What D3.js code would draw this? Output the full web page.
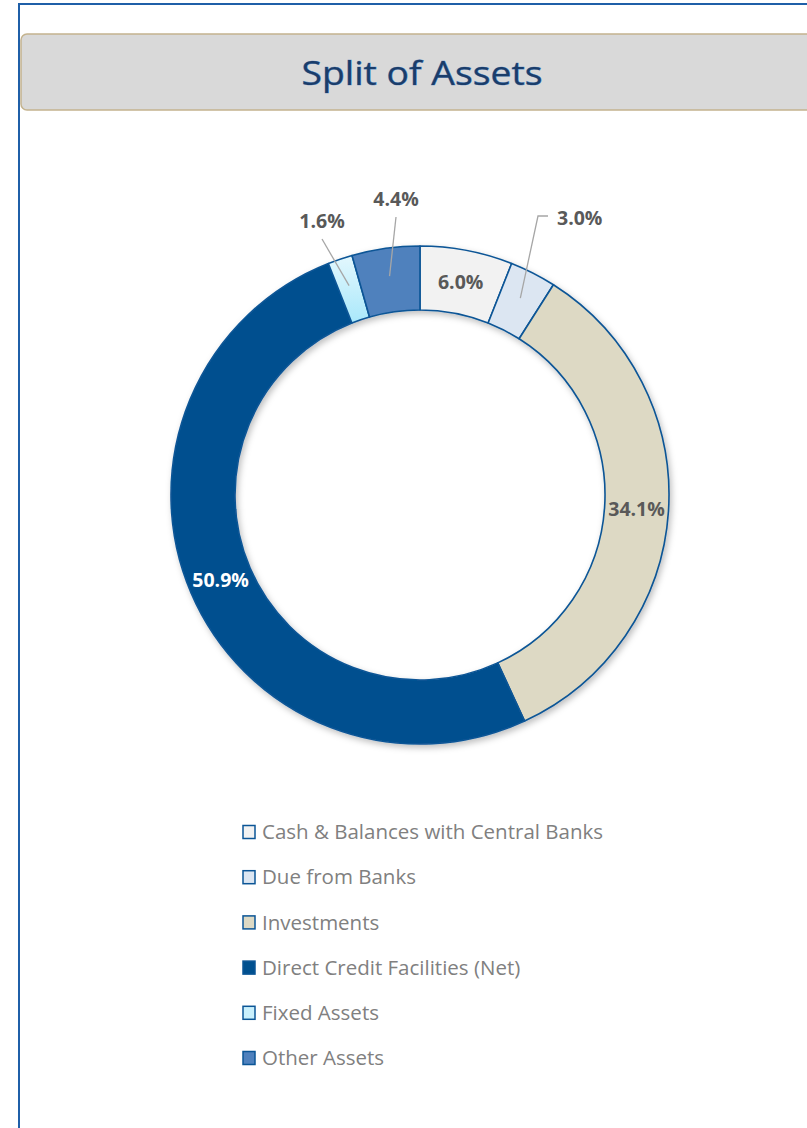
<!DOCTYPE html>
<html><head><meta charset="utf-8">
<script src="https://cdn.jsdelivr.net/npm/d3@7"></script>
<style>body{margin:0;background:#fff;overflow:hidden}svg{display:block}</style>
</head><body>
<svg id="c" width="807" height="1128"></svg>
<script>
const categories = ["Cash & Balances with Central Banks","Due from Banks","Investments","Direct Credit Facilities (Net)","Fixed Assets","Other Assets"];
const values = [6.0, 3.0, 34.1, 50.9, 1.6, 4.4];
const colors = ["#f2f2f2","#dce6f2","#ddd9c4","#00508f","url(#gFixed)","#4f81bd"];
const legendColors = ["#f2f2f2","#dce6f2","#ddd9c4","#00508f","#c9f0fc","#4f81bd"];
const title = "Split of Assets";

const svg = d3.select("#c");
const defs = svg.append("defs");
const g1 = defs.append("linearGradient").attr("id","gFixed").attr("x1","0").attr("y1","0").attr("x2","0").attr("y2","1");
g1.append("stop").attr("offset","0").attr("stop-color","#e3f7fd");
g1.append("stop").attr("offset","1").attr("stop-color","#a9e8fb");
const f = defs.append("filter").attr("id","sh").attr("x","-20%").attr("y","-20%").attr("width","140%").attr("height","140%");
f.append("feDropShadow").attr("dx",2).attr("dy",3).attr("stdDeviation",3).attr("flood-color","#000").attr("flood-opacity",0.25);

// outer frame
svg.append("path").attr("d","M19,1128 L19,4 L807,4").attr("fill","none").attr("stroke","#1f5fa8").attr("stroke-width",2);
// title box
svg.append("rect").attr("x",21).attr("y",34).attr("width",800).attr("height",76).attr("rx",6)
  .attr("fill","#d9d9d9").attr("stroke","#c4b38e").attr("stroke-width",1.5);
svg.append("text").attr("x",422).attr("y",85).attr("text-anchor","middle")
  .attr("font-family","'Open Sans', sans-serif").attr("font-size",33).attr("textLength",241).attr("lengthAdjust","spacingAndGlyphs")
  .attr("fill","#1a3d6a").attr("stroke","#5b8cc6").attr("stroke-width",0.7).attr("paint-order","stroke")
  .text(title);

const cx = 420, cy = 495, rOut = 249, rIn = 185;
const pie = d3.pie().sort(null).value(d=>d)(values);
const arc = d3.arc().innerRadius(rIn).outerRadius(rOut);
const chart = svg.append("g").attr("transform",`translate(${cx},${cy})`);
chart.append("g").attr("filter","url(#sh)").selectAll("path").data(pie).join("path")
  .attr("d",arc).attr("fill",(d,i)=>colors[i]).attr("stroke","#0b5596").attr("stroke-width",1.6).attr("stroke-linejoin","round");

// labels
const font = "'Open Sans', sans-serif";
const fmt = v => v.toFixed(1)+"%";
const mid = d3.arc().innerRadius((rIn+rOut)/2).outerRadius((rIn+rOut)/2);
const inside = {0:true, 2:true, 3:true};
const outside = {1:{lab:[137,-277], anchor:"start", elbow:[118,-279]}, 4:{lab:[-98,-274], anchor:"middle", elbow:null}, 5:{lab:[-24,-296], anchor:"middle", elbow:null}};
pie.forEach((d,i)=>{
  const c = mid.centroid(d);
  if (inside[i]) {
    chart.append("text").attr("x",c[0]).attr("y",c[1]).attr("dy","0.35em").attr("text-anchor","middle")
      .attr("font-family",font).attr("font-weight","bold").attr("font-size",19.5)
      .attr("fill", i===3 ? "#ffffff" : "#595959").text(fmt(values[i]));
  } else {
    const o = outside[i];
    const a = (d.startAngle+d.endAngle)/2;
    const r0 = rOut - 28;
    const s = [Math.sin(a)*r0, -Math.cos(a)*r0];
    let pts;
    if (o.elbow) pts = [s, o.elbow, [o.lab[0]-9, o.elbow[1]]];
    else pts = [s, [o.lab[0], o.lab[1]+18]];
    chart.append("path").attr("d", d3.line()(pts)).attr("fill","none").attr("stroke","#a6a6a6").attr("stroke-width",1.3);
    chart.append("text").attr("x",o.lab[0]).attr("y",o.lab[1]).attr("dy","0.35em").attr("text-anchor",o.anchor)
      .attr("font-family",font).attr("font-weight","bold").attr("font-size",19.5)
      .attr("fill","#595959").text(fmt(values[i]));
  }
});

// legend
const lg = svg.append("g");
categories.forEach((c,i)=>{
  const y = 832 + i*45.2;
  lg.append("rect").attr("x",243).attr("y",y-6.5).attr("width",12).attr("height",13)
    .attr("fill",legendColors[i]).attr("stroke","#0b5596").attr("stroke-width",1.5);
  lg.append("text").attr("x",262).attr("y",y).attr("dy","0.35em")
    .attr("font-family",font).attr("font-size",20.5).attr("fill","#808080").text(c);
});
</script>
</body></html>
